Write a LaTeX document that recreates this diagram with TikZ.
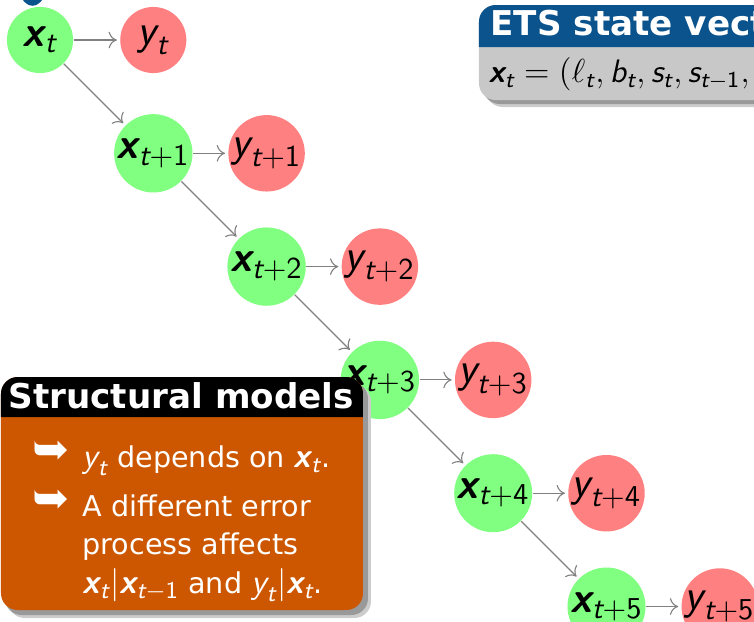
\documentclass[tikz,border=0pt]{standalone}
\usepackage{amsmath}
\usepackage{fontspec}
\setmainfont{DejaVu Sans}
\usetikzlibrary{arrows.meta}

\definecolor{xgreen}{RGB}{128,255,128}
\definecolor{yred}{RGB}{255,128,128}
\definecolor{etsblue}{RGB}{10,83,140}
\definecolor{etsgrey}{RGB}{200,200,200}
\definecolor{structorange}{RGB}{204,87,0}

% sans letters and digits for the maths, as on the slide
\newcommand{\sfx}{\textsf{\bfseries\itshape x}}
\newcommand{\sfy}{\textsf{\itshape y}}
\newcommand{\sft}{\textsf{\itshape t}}
\newcommand{\sfb}{\textsf{\itshape b}}
\newcommand{\sfs}{\textsf{\itshape s}}
\newcommand{\sfn}[1]{\textsf{#1}}
\newcommand{\bodymath}[1]{{\fontsize{12.4}{13.9}\selectfont$#1$}}

\begin{document}
\begin{tikzpicture}[x=.36pt,y=-.36pt,
  state/.style={circle,fill=xgreen,inner sep=0pt,minimum size=23.8pt,font=\fontsize{15.6}{18}\selectfont},
  obs/.style={state,fill=yred},
  link/.style={-{To[length=3pt,width=6pt]},black!50,line width=.4pt,shorten >=1pt},
  blocktitle/.style={anchor=base west,inner sep=0pt,text=white,font=\bfseries\fontsize{12.3}{14}\selectfont},
  itemtext/.style={anchor=base west,inner sep=0pt,text=white,font=\fontsize{10.3}{13.9}\selectfont},
  itemmark/.style={anchor=base west,inner sep=0pt,text=white,font=\bfseries\fontsize{16}{16}\selectfont}]
\clip (0,0) rectangle (754,621);
% states and observations
\node[state] (x0) at (40,40) {$\sfx_\sft$};
\node[obs] (y0) at (153.3,40) {$\sfy_\sft$};
\node[state] (x1) at (153.3,153.3) {$\sfx_{\sft+\sfn{1}}$};
\node[obs] (y1) at (266.6,153.3) {$\sfy_{\sft+\sfn{1}}$};
\node[state] (x2) at (266.6,266.6) {$\sfx_{\sft+\sfn{2}}$};
\node[obs] (y2) at (379.9,266.6) {$\sfy_{\sft+\sfn{2}}$};
\node[state] (x3) at (379.9,379.9) {$\sfx_{\sft+\sfn{3}}$};
\node[obs] (y3) at (493.2,379.9) {$\sfy_{\sft+\sfn{3}}$};
\node[state] (x4) at (493.2,493.2) {$\sfx_{\sft+\sfn{4}}$};
\node[obs] (y4) at (606.5,493.2) {$\sfy_{\sft+\sfn{4}}$};
\node[state] (x5) at (606.5,606.5) {$\sfx_{\sft+\sfn{5}}$};
\node[obs] (y5) at (719.8,606.5) {$\sfy_{\sft+\sfn{5}}$};
\draw[link] (x0) -- (y0);
\draw[link] (x0) -- (x1);
\draw[link] (x1) -- (y1);
\draw[link] (x1) -- (x2);
\draw[link] (x2) -- (y2);
\draw[link] (x2) -- (x3);
\draw[link] (x3) -- (y3);
\draw[link] (x3) -- (x4);
\draw[link] (x4) -- (y4);
\draw[link] (x4) -- (x5);
\draw[link] (x5) -- (y5);
% pointer tip at the top
\fill[etsblue,rounded corners=3] (18,-4) -- (47,-4) -- (32.5,9) -- cycle;
% ETS block
\fill[black!20,rounded corners=6] (486,12) rectangle (790,107);
\fill[black!40,rounded corners=6] (483,9) rectangle (787,104);
\fill[etsgrey,rounded corners=6] (479,5) rectangle (785,100);
\fill[etsblue] (479,47) [rounded corners=6] -- (479,5) -- (785,5) [sharp corners] -- (785,47) -- cycle;
\node[blocktitle] (etstitle) at (490,35) {ETS state vector};
\node[anchor=base west,inner sep=0pt,font=\fontsize{11.7}{14}\selectfont] (etsvec) at (488,82)
  {$\sfx_\sft = (\ell_\sft, \sfb_\sft, \sfs_\sft, \sfs_{\sft-\sfn{1}},$};
% Structural models block
\fill[black!20,rounded corners=6] (8,385) rectangle (371,618);
\fill[black!40,rounded corners=6] (5,382) rectangle (368,615);
\fill[structorange,rounded corners=6] (1,377) rectangle (363,610);
\fill[black] (1,417) [rounded corners=6] -- (1,377) -- (363,377) [sharp corners] -- (363,417) -- cycle;
\node[blocktitle] (structtitle) at (8,408) {Structural models};
\node[itemmark] (arrowa) at (32,464) {➥};
\node[itemtext] (itema) at (82,467) {\bodymath{\sfy_\sft} depends on \bodymath{\sfx_\sft}.};
\node[itemmark] (arrowb) at (32,513) {➥};
\node[itemtext] (itemb) at (82,516) {A different error};
\node[itemtext] (itemc) at (82,554.5) {process affects};
\node[itemtext] (itemd) at (82,593) {\bodymath{\sfx_\sft|\sfx_{\sft-\sfn{1}}} and \bodymath{\sfy_\sft|\sfx_\sft}.};
\end{tikzpicture}
\end{document}
